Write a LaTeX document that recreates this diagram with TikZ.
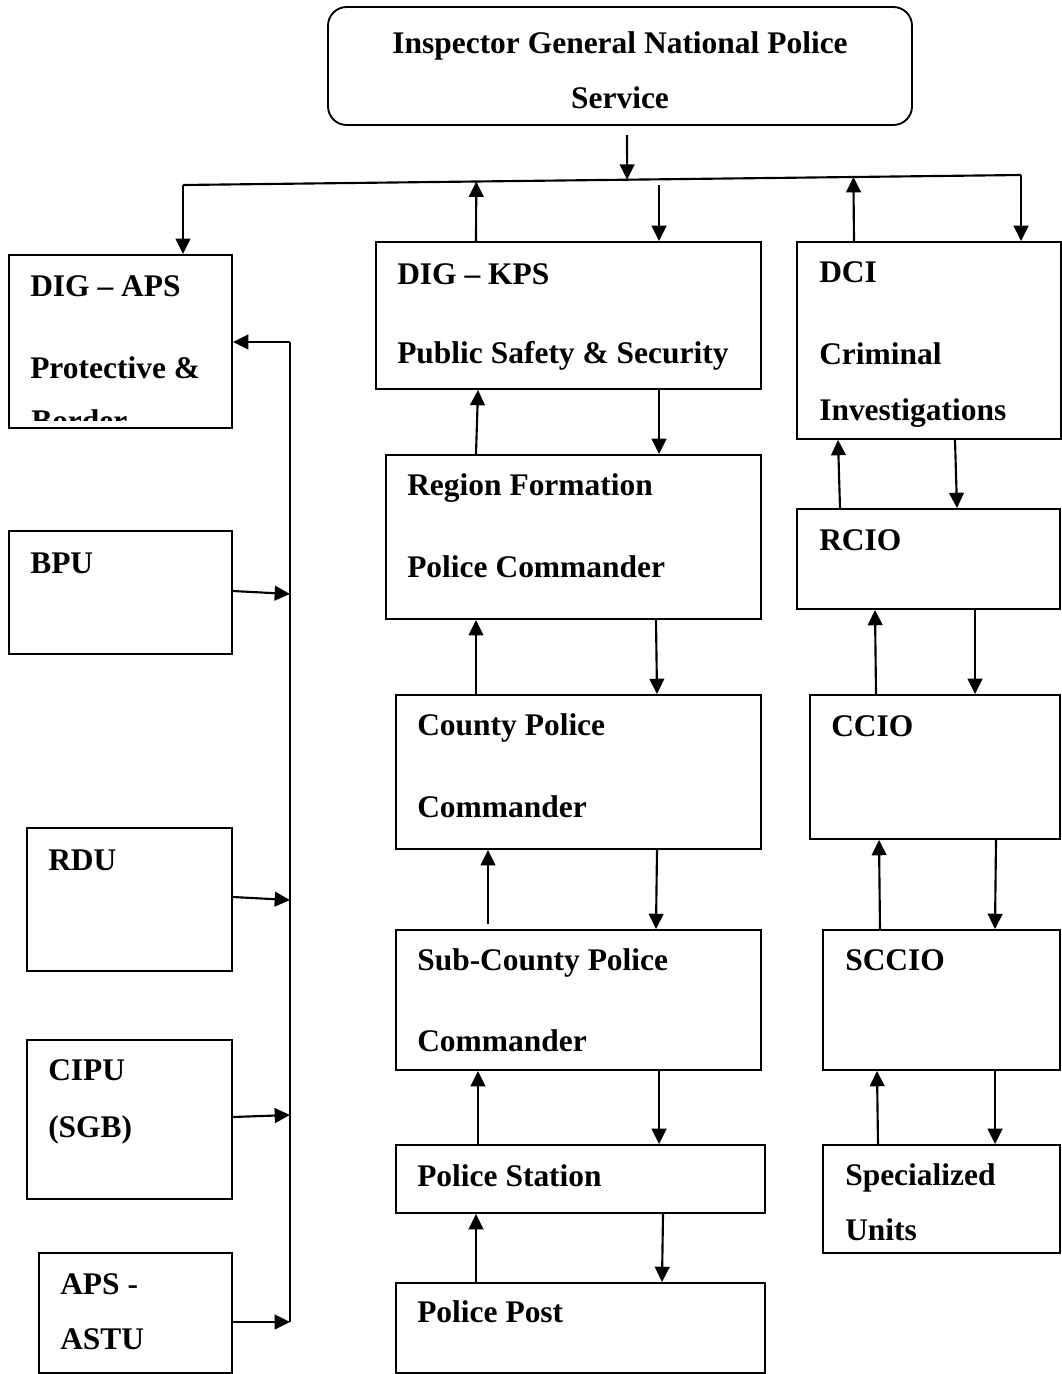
\documentclass[tikz,border=0pt]{standalone}
\usepackage{fontspec}
\setmainfont{Liberation Serif}
\usetikzlibrary{arrows.meta,calc}
\tikzset{
  box/.style={draw, line width=1.4pt, inner sep=0pt},
  lbl/.style={inner sep=0pt, anchor=base west, font=\fontsize{23.6}{28}\selectfont\bfseries},
  clbl/.style={lbl, anchor=base},
  conn/.style={line width=1.6pt},
  arr/.style={conn, -{Triangle[length=11.5pt,width=11pt]}}
}
\newcommand\bx[5]{\node[box, minimum width={(#4-#2)*0.75pt}, minimum height={(#5-#3)*0.75pt}] (#1) at ({(#2+#4)/2},{(#3+#5)/2}) {};}
\begin{document}
\begin{tikzpicture}[x=0.75pt,y=-0.75pt]
\useasboundingbox (0,0) rectangle (1062,1374);
% top box
\node[box, rounded corners=14pt, minimum width={(912-328)*0.75pt}, minimum height={(125-7)*0.75pt}] (ig) at (620,66) {};
\node[clbl] (igt1) at (620,53) {Inspector General National Police};
\node[clbl] (igt2) at (620,108) {Service};
% left column
\bx{daps}{9}{255}{232}{428}
\bx{bpu}{9}{531}{232}{654}
\bx{rdu}{27}{828}{232}{971}
\bx{cipu}{27}{1040}{232}{1199}
\bx{astu}{39}{1253}{232}{1373}
\node[lbl] (dapst1) at (30,296) {DIG – APS};
\node[lbl] (dapst2) at (30,378) {Protective \&};
\begin{scope}
\clip (daps.north west) rectangle (daps.east |- 0,420);
\node[lbl] (dapst3) at (31,431) {Border};
\end{scope}
\node[lbl] (bput) at (30,573) {BPU};
\node[lbl] (rdut) at (48,870) {RDU};
\node[lbl] (cipt1) at (48,1080) {CIPU};
\node[lbl] (cipt2) at (48,1137) {(SGB)};
\node[lbl] (astt1) at (60,1294) {APS -};
\node[lbl] (astt2) at (60,1349) {ASTU};
% middle column
\bx{kps}{376}{242}{761}{389}
\bx{reg}{386}{455}{761}{619}
\bx{cty}{396}{695}{761}{849}
\bx{sub}{396}{930}{761}{1070}
\bx{sta}{396}{1145}{765}{1213}
\bx{pst}{396}{1283}{765}{1373}
\node[lbl] (kpst1) at (397,284) {DIG – KPS};
\node[lbl] (kpst2) at (397,363) {Public Safety \& Security};
\node[lbl] (regt1) at (407,495) {Region Formation};
\node[lbl] (regt2) at (407,577) {Police Commander};
\node[lbl] (ctyt1) at (417,735) {County Police};
\node[lbl] (ctyt2) at (417,817) {Commander};
\node[lbl] (subt1) at (417,970) {Sub-County Police};
\node[lbl] (subt2) at (417,1051) {Commander};
\node[lbl] (stat) at (417,1186) {Police Station};
\node[lbl] (pstt) at (417,1322) {Police Post};
% right column
\bx{dci}{797}{242}{1061}{439}
\bx{rcio}{797}{509}{1060}{609}
\bx{ccio}{810}{695}{1060}{839}
\bx{scc}{823}{930}{1060}{1070}
\bx{spu}{823}{1145}{1060}{1253}
\node[lbl] (dcit1) at (819,282) {DCI};
\node[lbl] (dcit2) at (819,364) {Criminal};
\node[lbl] (dcit3) at (819,420) {Investigations};
\node[lbl] (rciot) at (819,550) {RCIO};
\node[lbl] (cciot) at (831,736) {CCIO};
\node[lbl] (scct) at (845,970) {SCCIO};
\node[lbl] (sput1) at (845,1185) {Specialized};
\node[lbl] (sput2) at (845,1240) {Units};
% top distribution bar
\coordinate (bl) at (183,185);
\coordinate (br) at (1021,175);
\draw[conn] (bl) -- (br);
\draw[arr] (bl) -- (bl |- daps.north);
\draw[arr] (br) -- (br |- dci.north);
\draw[arr] (627,135) -- ($(bl)!0.53!(br)$);
\draw[arr] (476,0 |- kps.north) -- ($(bl)!0.35!(br)$);
\draw[arr] (854,0 |- dci.north) -- ($(bl)!0.80!(br)$);
\draw[arr] (659,185) -- (659,0 |- kps.north);
% left bus
\coordinate (vt) at (290,342);
\coordinate (vb) at (290,1322);
\draw[conn] (vt) -- (vb);
\draw[arr] (vt) -- (vt -| daps.east);
\draw[arr] (bpu.east |- 0,591) -- (290,594);
\draw[arr] (rdu.east |- 0,897) -- (290,900);
\draw[arr] (cipu.east |- 0,1117) -- (290,1115);
\draw[arr] (astu.east |- 0,1322) -- (vb);
% middle arrows
\draw[arr] (476,0 |- reg.north) -- (478,0 |- kps.south);
\draw[arr] (659,0 |- kps.south) -- (659,0 |- reg.north);
\draw[arr] (476,0 |- cty.north) -- (476,0 |- reg.south);
\draw[arr] (656,0 |- reg.south) -- (657,0 |- cty.north);
\draw[arr] (488,924) -- (488,0 |- cty.south);
\draw[arr] (657,0 |- cty.south) -- (656,0 |- sub.north);
\draw[arr] (478,0 |- sta.north) -- (478,0 |- sub.south);
\draw[arr] (659,0 |- sub.south) -- (659,0 |- sta.north);
\draw[arr] (476,0 |- pst.north) -- (476,0 |- sta.south);
\draw[arr] (663,0 |- sta.south) -- (662,0 |- pst.north);
% right arrows
\draw[arr] (840,0 |- rcio.north) -- (838,0 |- dci.south);
\draw[arr] (955,0 |- dci.south) -- (957,0 |- rcio.north);
\draw[arr] (876,0 |- ccio.north) -- (875,0 |- rcio.south);
\draw[arr] (975,0 |- rcio.south) -- (975,0 |- ccio.north);
\draw[arr] (880,0 |- scc.north) -- (879,0 |- ccio.south);
\draw[arr] (996,0 |- ccio.south) -- (995,0 |- scc.north);
\draw[arr] (878,0 |- spu.north) -- (877,0 |- scc.south);
\draw[arr] (995,0 |- scc.south) -- (995,0 |- spu.north);
\end{tikzpicture}
\end{document}
